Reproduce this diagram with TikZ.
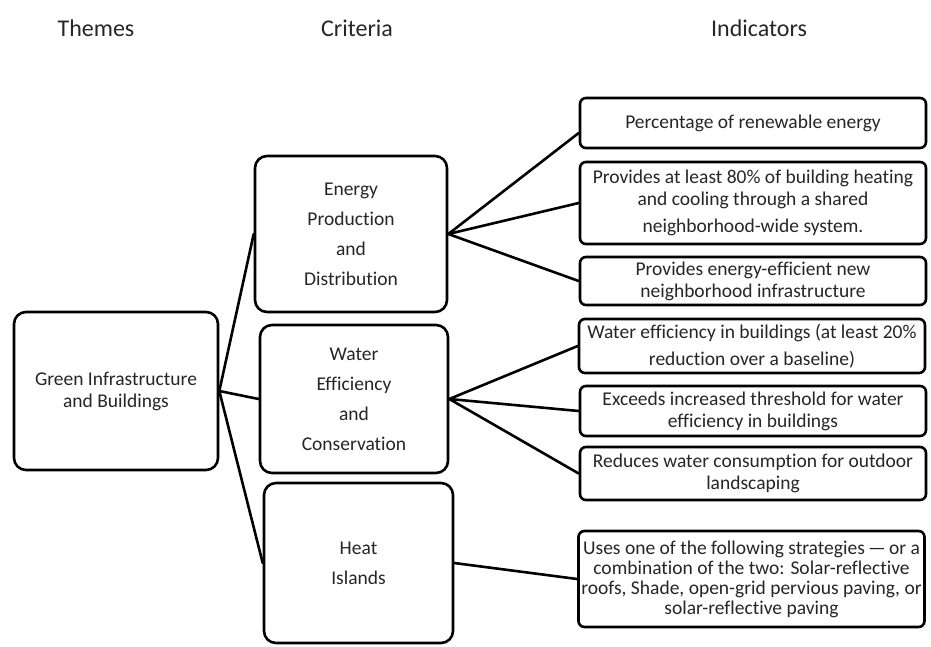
\documentclass[tikz,border=0pt]{standalone}
\usepackage{fontspec}
\setmainfont[Ligatures=NoCommon]{Carlito}
\begin{document}
\begin{tikzpicture}[x=1pt,y=-1pt,
  txt/.style={text=black!85},
  big/.style={draw=black, line width=2.6pt, rounded corners=12pt, fill=white, txt, align=center, inner sep=0pt},
  small/.style={draw=black, line width=2.6pt, rounded corners=6pt, fill=white, txt, align=center, inner sep=0pt},
  head/.style={txt, font=\fontsize{24}{28}\selectfont},
  link/.style={line width=2.6pt, line cap=round}]
\useasboundingbox (0,0) rectangle (931,646);

% column headings
\node[head] (hthemes) at (96,28) {Themes};
\node[head] (hcriteria) at (357,28) {Criteria};
\node[head] (hindicators) at (759,28) {Indicators};

% theme
\node[big, minimum width=204pt, minimum height=158pt, font=\fontsize{19.5}{22}\selectfont] (theme) at (116,391) {Green Infrastructure\\and Buildings};

% criteria
\node[big, minimum width=192pt, minimum height=156pt, font=\fontsize{19.5}{30}\selectfont] (energy) at (351,234) {Energy\\Production\\and\\Distribution};
\node[big, minimum width=188pt, minimum height=148pt, font=\fontsize{19.5}{30}\selectfont] (water) at (354,399) {Water\\Efficiency\\and\\Conservation};
\node[big, minimum width=189pt, minimum height=160pt, font=\fontsize{19.5}{30}\selectfont] (heat) at (358.5,563) {Heat\\Islands};

% indicators
\begin{scope}[every node/.append style={small, minimum width=346pt, font=\fontsize{19.5}{22}\selectfont}]
\node[minimum height=50pt] (i1) at (753,123) {Percentage of renewable energy};
\node[minimum height=82pt] (i2) at (753,203) {Provides at least 80\% of building heating\\and cooling through a shared\\[5pt]neighborhood-wide system.};
\node[minimum height=48pt] (i3) at (753,281) {Provides energy-efficient new\\neighborhood infrastructure};
\node[minimum height=54pt] (i4) at (752,346) {Water efficiency in buildings (at least 20\%\\[5pt]reduction over a baseline)};
\node[minimum height=50pt] (i5) at (753,411) {Exceeds increased threshold for water\\efficiency in buildings};
\node[minimum height=53pt] (i6) at (753,473.5) {Reduces water consumption for outdoor\\landscaping};
\node[minimum height=96pt, font=\fontsize{19.5}{20}\selectfont] (i7) at (751.5,579) {Uses one of the following strategies\,—\,or a\\combination of the two: Solar-reflective\\roofs, Shade, open-grid pervious paving, or\\solar-reflective paving};
\end{scope}

% theme to criteria
\draw[link] (theme.east) -- (energy.west);
\draw[link] (theme.east) -- (water.west);
\draw[link] (theme.east) -- (heat.west);

% criteria to indicators
\draw[link] (energy.east) -- (i1.west |- 0,133);
\draw[link] (energy.east) -- (i2.west);
\draw[link] (energy.east) -- (i3.west);
\draw[link] (water.east) -- (i4.west);
\draw[link] (water.east) -- (i5.west);
\draw[link] (water.east) -- (i6.west);
\draw[link] (heat.east) -- (i7.west);
\end{tikzpicture}
\end{document}
